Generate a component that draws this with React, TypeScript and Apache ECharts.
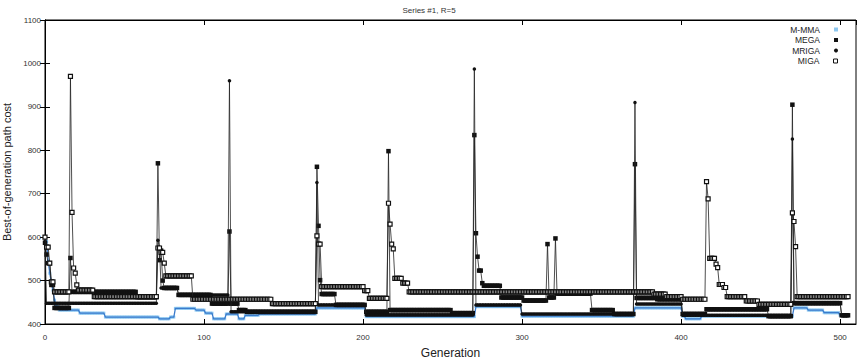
import React, { useEffect, useRef } from "react";
import * as echarts from "echarts";

// generations 0..505
const GEN_COUNT = 506;

// Each series is given as [generation, value] change points; the value holds until the next change.
const mmmaSteps: [number, number][] = [
  [0, 600], [1, 590], [2, 545], [3, 517], [4, 495], [5, 478], [6, 455], [7, 440], [9, 432],
  [22, 425], [38, 416], [72, 412], [79, 416], [82, 436], [95, 432], [101, 425], [106, 412],
  [114, 423], [122, 412], [126, 420], [135, 423], [171, 437], [202, 417], [271, 440],
  [300, 418], [371, 437], [401, 418], [403, 412], [413, 418], [471, 437], [480, 432],
  [490, 426], [500, 420],
];

const megaSteps: [number, number][] = [
  [0, 587], [1, 560], [2, 540], [4, 490], [6, 437], [16, 552], [17, 474], [58, 462],
  [71, 770], [72, 547], [73, 569], [74, 500], [75, 483], [84, 467], [105, 447], [116, 613],
  [117, 447], [122, 432], [127, 428], [171, 762], [172, 626], [173, 501], [174, 469],
  [183, 444], [202, 428], [216, 798], [217, 432], [256, 425], [270, 835], [271, 609],
  [272, 555], [273, 523], [275, 494], [276, 488], [287, 461], [301, 454], [316, 584],
  [317, 461], [321, 597], [322, 470], [344, 432], [358, 423], [371, 768], [372, 460],
  [385, 457], [401, 423], [416, 434], [455, 418], [470, 905], [471, 448], [501, 420],
];

const mrigaSteps: [number, number][] = [
  [0, 590], [1, 448], [71, 593], [72, 576], [73, 483], [84, 467], [116, 960], [117, 428],
  [171, 726], [172, 444], [202, 421], [270, 987], [271, 444], [300, 423], [371, 910],
  [372, 446], [401, 420], [470, 826], [471, 448], [501, 420],
];

const migaSteps: [number, number][] = [
  [0, 600], [1, 577], [3, 540], [4, 497], [6, 474], [16, 970], [17, 657], [18, 529],
  [19, 517], [20, 490], [21, 478], [31, 463], [71, 575], [73, 565], [75, 540], [76, 511],
  [93, 457], [143, 447], [171, 603], [172, 584], [174, 486], [201, 477], [204, 459],
  [216, 678], [217, 630], [218, 584], [219, 573], [220, 505], [225, 494], [229, 474],
  [383, 469], [391, 463], [401, 457], [416, 728], [417, 688], [418, 551], [422, 538],
  [423, 530], [424, 491], [427, 484], [429, 463], [441, 453], [449, 445], [470, 656],
  [471, 636], [472, 578], [473, 463],
];

const seriesNames = ["M-MMA", "MEGA", "MRIGA", "MIGA"];
const xTicks = { min: 0, max: 510, interval: 100 };
const yTicks = { min: 400, max: 1100, interval: 100 };

function expand(steps: [number, number][]): [number, number][] {
  const out: [number, number][] = [];
  let k = 0;
  for (let g = 0; g < GEN_COUNT; g++) {
    while (k + 1 < steps.length && steps[k + 1][0] <= g) k++;
    out.push([g, steps[k][1]]);
  }
  return out;
}

const FONT = "Liberation Sans";

export default function App() {
  const ref = useRef<HTMLDivElement>(null);
  useEffect(() => {
    if (!ref.current) return;
    const chart = echarts.init(ref.current, undefined, { renderer: "svg" });
    const mmma = expand(mmmaSteps);
    const mega = expand(megaSteps);
    const mriga = expand(mrigaSteps);
    const miga = expand(migaSteps);

    const tickCommon = {
      axisLine: { show: true, lineStyle: { color: "#000", width: 1 } },
      axisTick: { show: true, inside: true, length: 5, lineStyle: { color: "#000", width: 1 } },
      splitLine: { show: false },
    };

    const legendIcons: any[] = [
      { name: seriesNames[0], icon: "rect", itemStyle: { color: "#8ec8f0", borderWidth: 0 } },
      { name: seriesNames[1], icon: "rect", itemStyle: { color: "#111", borderWidth: 0 } },
      { name: seriesNames[2], icon: "circle", itemStyle: { color: "#111", borderWidth: 0 } },
      { name: seriesNames[3], icon: "rect", itemStyle: { color: "#fff", borderColor: "#111", borderWidth: 1 } },
    ];

    const option: any = {
      animation: false,
      backgroundColor: "#fff",
      title: {
        text: "Series #1, R=5",
        left: "center",
        top: 1,
        textStyle: { fontSize: 8, fontWeight: "normal", color: "#333", fontFamily: FONT },
      },
      legend: legendIcons.map((d, i) => ({
        data: [d],
        right: 20,
        top: 25 + i * 10.5,
        orient: "horizontal",
        align: "right",
        itemWidth: 4,
        itemHeight: 4,
        padding: 0,
        selectedMode: false,
        textStyle: { fontSize: 8.5, color: "#222", fontFamily: FONT, padding: [0, 9, 0, 0] },
      })),
      grid: {
        left: 45, right: 2, top: 20, bottom: 38,
        containLabel: false, outerBoundsMode: "none",
        show: true, borderColor: "#000", borderWidth: 1,
      },
      xAxis: [
        {
          type: "value", ...xTicks, position: "bottom", ...tickCommon,
          name: "Generation", nameLocation: "middle", nameGap: 23,
          nameTextStyle: { fontSize: 12, color: "#222", fontFamily: FONT },
          axisLabel: {
            fontSize: 8, color: "#333", fontFamily: FONT, margin: 9,
            showMaxLabel: false,
            formatter: (v: number) => (v % 100 === 0 ? String(v) : ""),
          },
        },
        {
          type: "value", ...xTicks, position: "top", ...tickCommon,
          axisLabel: { show: false },
        },
      ],
      yAxis: [
        {
          type: "value", ...yTicks, position: "left", ...tickCommon,
          name: "Best-of-generation path cost", nameLocation: "middle", nameGap: 27,
          nameTextStyle: { fontSize: 11, color: "#222", fontFamily: FONT },
          axisLabel: {
            fontSize: 8, color: "#333", fontFamily: FONT, margin: 4,
            formatter: (v: number) => String(v),
          },
        },
        {
          type: "value", ...yTicks, position: "right", ...tickCommon,
          axisLabel: { show: false },
        },
      ],
      series: [
        {
          name: seriesNames[0], type: "line", data: mmma,
          symbol: "rect", symbolSize: 3, showSymbol: true, showAllSymbol: true,
          itemStyle: { color: "#8ec8f0" },
          lineStyle: { width: 0, opacity: 0 },
          z: 1,
        },
        {
          name: "M-MMA line", type: "line", data: mmma, silent: true,
          showSymbol: false, symbol: "none",
          lineStyle: { width: 1.3, color: "#3b7bcc" },
          z: 2,
        },
        {
          name: seriesNames[1], type: "line", data: mega,
          symbol: "rect", symbolSize: 4.5, showAllSymbol: true,
          itemStyle: { color: "#111" },
          lineStyle: { width: 0.8, color: "#222" },
          z: 3,
        },
        {
          name: seriesNames[2], type: "line", data: mriga,
          symbol: "circle", symbolSize: 3.5, showAllSymbol: true,
          itemStyle: { color: "#111" },
          lineStyle: { width: 0.8, color: "#222" },
          z: 4,
        },
        {
          name: seriesNames[3], type: "line", data: miga,
          symbol: "rect", symbolSize: 4, showAllSymbol: true,
          itemStyle: { color: "#fff", borderColor: "#111", borderWidth: 1.2 },
          lineStyle: { width: 0.8, color: "#222" },
          z: 5,
        },
      ],
    };
    chart.setOption(option);
    return () => chart.dispose();
  }, []);
  return (
    <div
      ref={ref}
      style={{ position: "fixed", left: 0, top: 0, width: 858, height: 362, background: "#fff" }}
    />
  );
}
